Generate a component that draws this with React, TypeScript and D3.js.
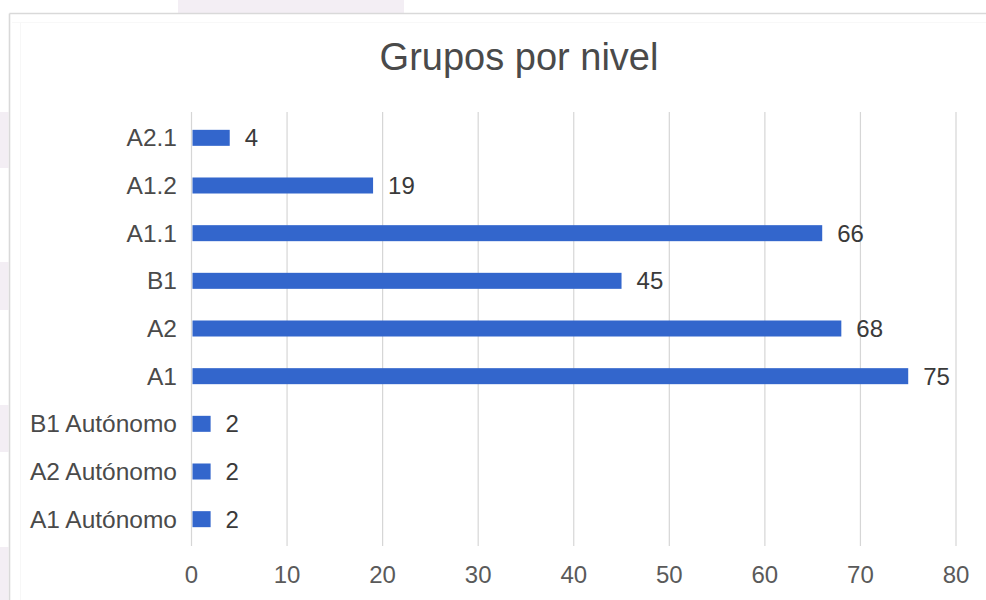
import React from "react";
import * as d3 from "d3";

const categories = ["A2.1", "A1.2", "A1.1", "B1", "A2", "A1", "B1 Autónomo", "A2 Autónomo", "A1 Autónomo"];
const values = [4, 19, 66, 45, 68, 75, 2, 2, 2];
const tickValues = [0, 10, 20, 30, 40, 50, 60, 70, 80];
const title = "Grupos por nivel";

const W = 986;
const H = 600;
const FONT = "'Liberation Sans', Arial, Helvetica, sans-serif";

export default function App() {
  const x = d3.scaleLinear().domain([0, 80]).range([191.5, 956]);
  const y = d3
    .scaleBand<string>()
    .domain(categories)
    .range([114, 543])
    .paddingInner(0.664)
    .paddingOuter(0.332);
  const bw = y.bandwidth();

  const sidePatches = [
    [112, 168],
    [262, 310],
    [405, 452],
    [547, 600],
  ];

  return (
    <svg
      width={W}
      height={H}
      style={{ position: "absolute", left: 0, top: 0, background: "#fff" }}
      fontFamily={FONT}
    >
      <rect x={0} y={0} width={W} height={H} fill="#fff" />
      {/* page background fragments */}
      <rect x={178} y={0} width={226} height={13} fill="#f3eef4" />
      {sidePatches.map(([a, b], i) => (
        <rect key={i} x={0} y={a} width={8.5} height={b - a} fill="#f3eef4" />
      ))}
      {/* chart frame */}
      <line x1={9.5} y1={13.5} x2={W} y2={13.5} stroke="#d9d9d9" strokeWidth={1.6} />
      <line x1={9.5} y1={13.5} x2={9.5} y2={H} stroke="#d9d9d9" strokeWidth={1.6} />
      <line x1={20.5} y1={22} x2={20.5} y2={H} stroke="#f7f7f7" strokeWidth={1} />
      <line x1={12} y1={22.5} x2={W} y2={22.5} stroke="#f8f8f8" strokeWidth={1} />

      <text x={519} y={70} textAnchor="middle" fontSize={38} fill="#4a4a4a">
        {title}
      </text>

      {/* gridlines */}
      {tickValues.map((t) => (
        <line
          key={t}
          x1={x(t)}
          x2={x(t)}
          y1={112}
          y2={546}
          stroke="#d6d6d6"
          strokeWidth={1.2}
        />
      ))}
      {/* tick labels */}
      {tickValues.map((t) => (
        <text
          key={"t" + t}
          x={x(t)}
          y={583}
          textAnchor="middle"
          fontSize={24}
          fill="#5a5a5a"
        >
          {t}
        </text>
      ))}

      {/* bars */}
      {categories.map((c, i) => (
        <g key={c}>
          <rect
            x={x(0) + 1}
            y={y(c)!}
            width={Math.max(0, x(values[i]) - x(0) - 1)}
            height={bw}
            fill="#3366cc"
          />
          <text
            x={177}
            y={y(c)! + bw / 2}
            dy="0.35em"
            textAnchor="end"
            fontSize={24.5}
            fill="#4a4a4a"
          >
            {c}
          </text>
          <text
            x={x(values[i]) + 15}
            y={y(c)! + bw / 2}
            dy="0.35em"
            textAnchor="start"
            fontSize={24}
            fill="#3a3a3a"
          >
            {values[i]}
          </text>
        </g>
      ))}
    </svg>
  );
}
